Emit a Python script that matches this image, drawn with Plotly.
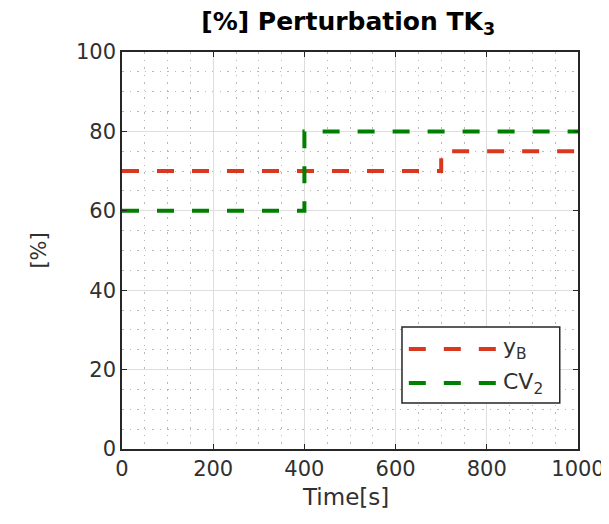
import plotly.graph_objects as go

# Data
yb_time = [0, 700, 1000]
yb_vals = [70, 75, 75]
cv2_time = [0, 400, 1000]
cv2_vals = [60, 80, 80]
x_ticks = [0, 200, 400, 600, 800, 1000]
y_ticks = [0, 20, 40, 60, 80, 100]

RED = "#D9381E"
GREEN = "#008000"
FONT = "DejaVu Sans"
DASH = "17px,18px"
TXT = "#303030"

fig = go.Figure()
fig.add_trace(go.Scatter(x=yb_time, y=yb_vals, mode="lines", line_shape="hv",
                         line=dict(color=RED, width=4, dash=DASH), name="y<sub>B</sub>",
                         showlegend=False))
fig.add_trace(go.Scatter(x=cv2_time, y=cv2_vals, mode="lines", line_shape="hv",
                         line=dict(color=GREEN, width=4, dash=DASH), name="CV<sub>2</sub>",
                         showlegend=False))

axis_common = dict(
    showline=True, linecolor="#262626", linewidth=1.5, mirror="allticks",
    ticks="inside", ticklen=5, tickcolor="#262626",
    showgrid=True, gridcolor="#dedede", gridwidth=1,
    zeroline=False, automargin=False,
    tickfont=dict(family=FONT, size=21, color=TXT),
)

fig.update_xaxes(range=[0, 1000], tickvals=x_ticks, **axis_common,
                 minor=dict(dtick=50, showgrid=True, gridcolor="#b8b8b8", griddash="1.5px,6px", gridwidth=1, ticks=""))
fig.update_yaxes(range=[0, 100], tickvals=y_ticks, **axis_common,
                 minor=dict(dtick=5, showgrid=True, gridcolor="#b8b8b8", griddash="1.5px,6px", gridwidth=1, ticks=""))

# custom legend box
shapes = [
    dict(type="rect", xref="paper", yref="paper", x0=0.614, x1=0.96, y0=0.116, y1=0.307,
         line=dict(color="#262626", width=1.5), fillcolor="white", layer="above"),
    dict(type="line", xref="paper", yref="paper", x0=0.629, x1=0.822, y0=0.252, y1=0.252,
         line=dict(color=RED, width=4, dash=DASH), layer="above"),
    dict(type="line", xref="paper", yref="paper", x0=0.629, x1=0.822, y0=0.166, y1=0.166,
         line=dict(color=GREEN, width=4, dash=DASH), layer="above"),
]
annotations = [
    dict(text="y<sub>B</sub>", xref="paper", yref="paper", x=0.832, y=0.252, xanchor="left",
         yanchor="middle", showarrow=False, font=dict(family=FONT, size=22, color=TXT)),
    dict(text="CV<sub>2</sub>", xref="paper", yref="paper", x=0.832, y=0.166, xanchor="left",
         yanchor="middle", showarrow=False, font=dict(family=FONT, size=22, color=TXT)),
    dict(text="Time[s]", xref="paper", yref="paper", x=0.49, y=-0.121, xanchor="center",
         yanchor="middle", showarrow=False, font=dict(family=FONT, size=23, color=TXT)),
    dict(text="[%]", xref="paper", yref="paper", x=-0.184, y=0.50, xanchor="center",
         yanchor="middle", textangle=-90, showarrow=False, font=dict(family=FONT, size=21, color=TXT)),
]

fig.update_layout(
    width=601, height=516,
    margin=dict(l=114, r=31, t=44, b=75),
    paper_bgcolor="white", plot_bgcolor="white",
    title=dict(text="<b>[%] Perturbation TK<sub>3</sub></b>", x=0.566, xanchor="center",
               y=0.975, yanchor="middle", font=dict(family=FONT, size=25, color="#000000")),
    shapes=shapes, annotations=annotations,
    showlegend=False,
)

fig.write_html("out.html")
